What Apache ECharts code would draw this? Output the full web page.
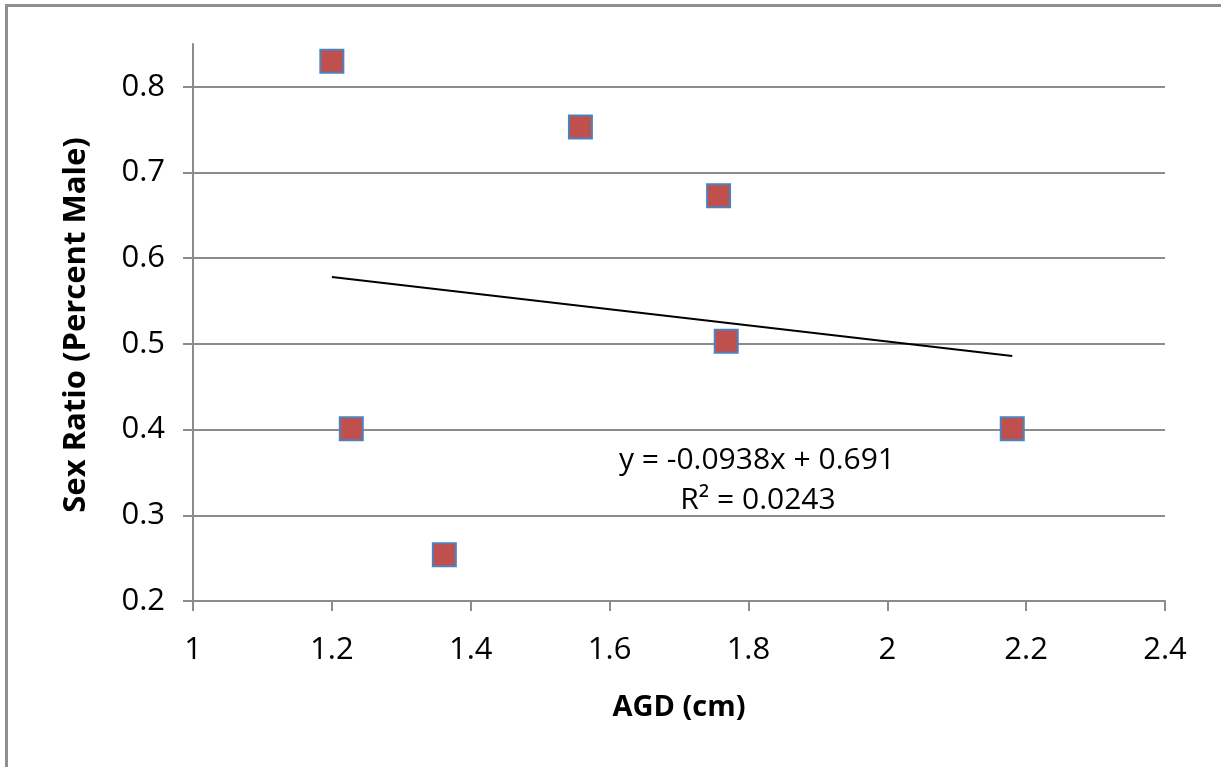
<!DOCTYPE html>
<html>
<head>
<meta charset="utf-8">
<script src="https://cdn.jsdelivr.net/npm/echarts@6/dist/echarts.min.js"></script>
<style>
  html, body { margin: 0; padding: 0; background: #fff; overflow: hidden; }
  #chart { width: 1221px; height: 767px; position: absolute; left: 0; top: 0; }
  #frame { position: absolute; left: 5px; top: 4px; width: 3000px; height: 3000px;
           border-left: 3px solid #8f8f8f; border-top: 3px solid #8f8f8f; pointer-events: none; }
</style>
</head>
<body>
<div id="chart"></div>
<div id="frame"></div>
<script>
// ---- data ----
const agd   = [1.2, 1.558, 1.757, 1.768, 2.18, 1.228, 1.362];
const ratio = [0.83, 0.753, 0.673, 0.503, 0.401, 0.401, 0.254];
const trendX = [1.2, 2.18];
const trendY = [0.578, 0.486];
const xTicks = ['1', '1.2', '1.4', '1.6', '1.8', '2', '2.2', '2.4'];
const yTicks = ['0.2', '0.3', '0.4', '0.5', '0.6', '0.7', '0.8'];
const equationText = 'y = -0.0938x + 0.691';
const r2Text = 'R² = 0.0243';
const xTitle = 'AGD (cm)';
const yTitle = 'Sex Ratio (Percent Male)';

// ---- layout ----
const FONT = '"Open Sans", "Noto Sans", sans-serif';
const W = 1221, H = 767;
const gLeft = 193, gRight = 56, gBottom = 166, gTopA = 44;
const yMin = 0.2, yMaxA = 0.85, yMaxB = 0.8;
const plotH = H - gBottom - gTopA;
const gTopB = gTopA + plotH * (yMaxA - yMaxB) / (yMaxA - yMin);
const grey = '#8c8c8c';

const pts = agd.map((x, i) => [x, ratio[i]]);
const trend = trendX.map((x, i) => [x, trendY[i]]);

const chart = echarts.init(document.getElementById('chart'), null, { renderer: 'canvas' });
chart.setOption({
  animation: false,
  backgroundColor: '#ffffff',
  grid: [
    { left: gLeft, right: gRight, top: gTopA, bottom: gBottom },
    { left: gLeft, right: gRight, top: gTopB, bottom: gBottom }
  ],
  xAxis: [
    { type: 'value', gridIndex: 0, min: 1, max: 2.4, interval: 0.2, show: false },
    { type: 'value', gridIndex: 1, min: 1, max: 2.4, interval: 0.2,
      axisLine: { show: true, lineStyle: { color: grey, width: 2 } },
      axisTick: { show: true, length: 10, lineStyle: { color: grey, width: 2 } },
      axisLabel: { color: '#000', fontFamily: FONT, fontSize: 31, margin: 34,
                   formatter: v => { const s = xTicks.find(t => Math.abs(parseFloat(t) - v) < 1e-6); return s || ''; } },
      splitLine: { show: false },
      name: xTitle, nameLocation: 'middle', nameGap: 92,
      nameTextStyle: { color: '#000', fontFamily: FONT, fontSize: 29, fontWeight: 'bold' } }
  ],
  yAxis: [
    { type: 'value', gridIndex: 0, min: yMin, max: yMaxA,
      axisLine: { show: true, lineStyle: { color: grey, width: 2 } },
      axisTick: { show: false }, axisLabel: { show: false }, splitLine: { show: false } },
    { type: 'value', gridIndex: 1, min: yMin, max: yMaxB, interval: 0.1,
      axisLine: { show: false },
      axisTick: { show: true, length: 10, lineStyle: { color: grey, width: 2 } },
      axisLabel: { color: '#000', fontFamily: FONT, fontSize: 31, margin: 28,
                   formatter: v => { const s = yTicks.find(t => Math.abs(parseFloat(t) - v) < 1e-6); return s || ''; } },
      splitLine: { show: true, lineStyle: { color: grey, width: 2 } } }
  ],
  graphic: [
    { type: 'text', x: 76, y: 325, rotation: Math.PI / 2,
      style: { text: yTitle, font: 'bold 31px ' + FONT, fill: '#000', align: 'center', verticalAlign: 'middle' } },
    { type: 'text', x: 757, y: 460,
      style: { text: equationText, font: '30px ' + FONT, fill: '#000', align: 'center', verticalAlign: 'middle' } },
    { type: 'text', x: 758, y: 500,
      style: { text: r2Text, font: '30px ' + FONT, fill: '#000', align: 'center', verticalAlign: 'middle' } }
  ],
  series: [
    { type: 'line', xAxisIndex: 0, yAxisIndex: 0, data: trend, symbol: 'none',
      lineStyle: { color: '#000', width: 2 }, z: 3 },
    { type: 'scatter', xAxisIndex: 0, yAxisIndex: 0, data: pts, symbol: 'rect', symbolSize: 23,
      itemStyle: { color: '#C0504D', borderColor: '#4F81BD', borderWidth: 2, opacity: 1 }, z: 4 }
  ]
});
</script>
</body>
</html>
